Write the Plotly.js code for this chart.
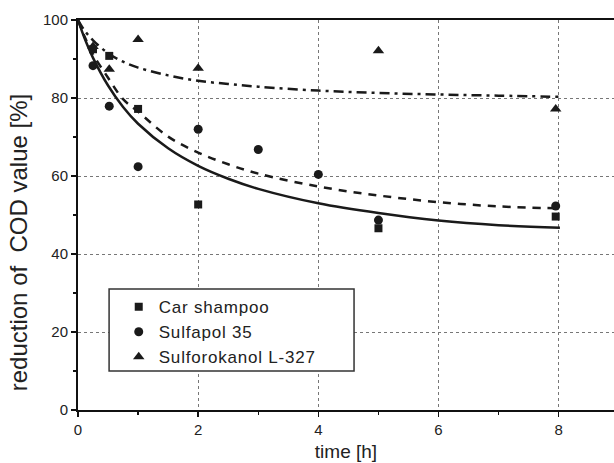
<!DOCTYPE html>
<html>
<head>
<meta charset="utf-8">
<script src="https://cdn.plot.ly/plotly-3.0.1.min.js"></script>
<style>
html,body{margin:0;padding:0;background:#fff;}
.legendtext{letter-spacing:0.8px;}
</style>
</head>
<body>
<div id="chart" style="width:614px;height:463px;"></div>
<script>
// Measured points
const carX = [0.25, 0.52, 1.0, 2.0, 5.0, 7.95];
const carY = [92.5, 90.8, 77.2, 52.7, 46.6, 49.6];
const sulfapolX = [0.25, 0.52, 1.0, 2.0, 3.0, 4.0, 5.0, 7.95];
const sulfapolY = [88.3, 77.9, 62.4, 72.0, 66.8, 60.4, 48.7, 52.3];
const sulforoX = [0.25, 0.52, 1.0, 2.0, 5.0, 7.95];
const sulforoY = [93.2, 87.4, 95.0, 87.6, 92.1, 77.2];

// Fitted curves
const fitX = [0, 0.1, 0.25, 0.5, 0.75, 1, 1.5, 2, 2.5, 3, 4, 5, 6, 7, 8.02];
const fitCar = [100, 95.7, 90.3, 83.2, 77.7, 73.4, 67.1, 62.6, 59.3, 56.7, 53.0, 50.5, 48.6, 47.4, 46.7];
const fitSulfapol = [100, 96.1, 91.2, 85.2, 79.7, 76.5, 70.1, 66.0, 63.0, 60.6, 57.3, 55.0, 53.3, 52.2, 51.7];
const fitSulforo = [100, 97.5, 94.8, 91.5, 89.3, 87.8, 85.8, 84.4, 83.6, 82.9, 81.9, 81.3, 80.9, 80.6, 80.3];

const names = ["Car shampoo", "Sulfapol 35", "Sulforokanol L-327"];
const xTitle = "time [h]";
const yTitle = "reduction of \u00a0COD value [%]";
const ink = "#1a1a1a";
const font = "Liberation Sans, Arial, sans-serif";

const traces = [
  {x: fitX, y: fitCar, mode: "lines", line: {color: ink, width: 2.5, shape: "spline"}, showlegend: false, hoverinfo: "skip"},
  {x: fitX, y: fitSulfapol, mode: "lines", line: {color: ink, width: 2.5, dash: "8px,7px", shape: "spline"}, showlegend: false, hoverinfo: "skip"},
  {x: fitX, y: fitSulforo, mode: "lines", line: {color: ink, width: 2.5, dash: "10px,5px,3px,5px", shape: "spline"}, showlegend: false, hoverinfo: "skip"},
  {x: carX, y: carY, name: names[0], mode: "markers", marker: {symbol: "square", size: 8, color: ink}},
  {x: sulfapolX, y: sulfapolY, name: names[1], mode: "markers", marker: {symbol: "circle", size: 9, color: ink}},
  {x: sulforoX, y: sulforoY, name: names[2], mode: "markers", marker: {symbol: "triangle-up", size: 10, color: ink}}
];

const layout = {
  width: 614, height: 463,
  margin: {l: 78, r: 0, t: 20, b: 53},
  paper_bgcolor: "#fff", plot_bgcolor: "#fff",
  font: {family: font, color: "#222", size: 15},
  showlegend: true,
  legend: {
    x: 0.076, y: 0.31, xanchor: "left", yanchor: "top",
    borderwidth: 0, bgcolor: "rgba(0,0,0,0)",
    font: {family: font, size: 17, color: "#222"},
    itemsizing: "trace"
  },
  shapes: [{
    type: "rect", xref: "paper", yref: "paper", layer: "above",
    x0: 0.058, x1: 0.515, y0: 0.10, y1: 0.31,
    line: {color: "#333", width: 1.5}, fillcolor: "#fff"
  }],
  xaxis: {
    range: [0, 8.92], tickvals: [0, 2, 4, 6, 8], ticktext: ["0", "2", "4", "6", "8"],
    showline: true, linecolor: "#111", linewidth: 2, mirror: true,
    ticks: "outside", ticklen: 5, tickwidth: 1.5, tickcolor: "#111",
    minor: {tickvals: [1, 3, 5, 7], ticks: "outside", ticklen: 3, tickwidth: 1.5, tickcolor: "#111", showgrid: false},
    showgrid: true, gridcolor: "#777", griddash: "dot", gridwidth: 1,
    zeroline: false,
    tickfont: {size: 15, family: font, color: "#222"},
    title: {text: xTitle, font: {size: 19, family: font, color: "#222"}, standoff: 8}
  },
  yaxis: {
    range: [0, 100], tickvals: [0, 20, 40, 60, 80, 100],
    showline: true, linecolor: "#111", linewidth: 2, mirror: false,
    ticks: "outside", ticklen: 5, tickwidth: 1.5, tickcolor: "#111",
    minor: {tickvals: [10, 30, 50, 70, 90], ticks: "outside", ticklen: 3, tickwidth: 1.5, tickcolor: "#111", showgrid: false},
    showgrid: true, gridcolor: "#777", griddash: "dot", gridwidth: 1,
    zeroline: false,
    tickfont: {size: 15, family: font, color: "#222"}
  },
  annotations: [{
    text: yTitle, textangle: -90, showarrow: false,
    xref: "paper", yref: "paper", x: -0.112, y: 0.43,
    xanchor: "center", yanchor: "middle",
    font: {size: 24, family: font, color: "#222"}
  }]
};

Plotly.newPlot("chart", traces, layout, {displayModeBar: false, staticPlot: true});
</script>
</body>
</html>
